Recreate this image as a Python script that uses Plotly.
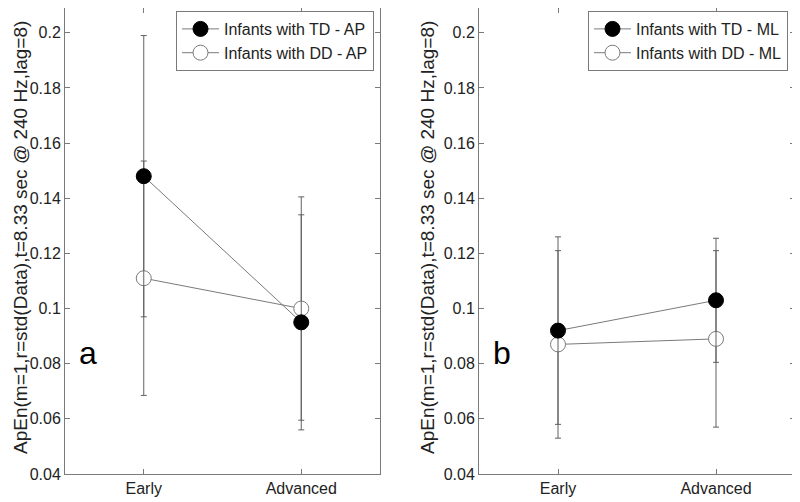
import plotly.graph_objects as go

categories = ["Early", "Advanced"]
cat_pos = [1, 2]

# Panel a (AP)
td_ap = [0.148, 0.095]
td_ap_err = [0.051, 0.039]
dd_ap = [0.111, 0.100]
dd_ap_err = [0.0425, 0.0405]

# Panel b (ML)
td_ml = [0.092, 0.103]
td_ml_err = [0.034, 0.0225]
dd_ml = [0.087, 0.089]
dd_ml_err = [0.034, 0.032]

y_ticks = [0.04, 0.06, 0.08, 0.1, 0.12, 0.14, 0.16, 0.18, 0.2]
y_ticklabels = ["0.04", "0.06", "0.08", "0.1", "0.12", "0.14", "0.16", "0.18", "0.2"]
y_title = "ApEn(m=1,r=std(Data),t=8.33 sec @ 240 Hz,lag=8)"

FONT = "Liberation Sans, Arial, Helvetica, sans-serif"
GRAY = "#7a7a7a"
ERR = "#606060"
W, H = 800, 502
OFF = 8  # page body margin offset

fig = go.Figure()

def add_panel(xa, ya, legend, td, td_err, dd, dd_err, td_name, dd_name):
    fig.add_trace(go.Scatter(
        x=cat_pos, y=dd, name=dd_name, mode="lines+markers",
        xaxis=xa, yaxis=ya, legend=legend, legendrank=2,
        line=dict(color=GRAY, width=1),
        marker=dict(symbol="circle", size=15, color="white", line=dict(color=GRAY, width=1)),
        error_y=dict(type="data", array=dd_err, visible=True, color=ERR, thickness=1, width=3),
    ))
    fig.add_trace(go.Scatter(
        x=cat_pos, y=td, name=td_name, mode="lines+markers",
        xaxis=xa, yaxis=ya, legend=legend, legendrank=1,
        line=dict(color=GRAY, width=1),
        marker=dict(symbol="circle", size=15, color="black", line=dict(color="black", width=1)),
        error_y=dict(type="data", array=td_err, visible=True, color=ERR, thickness=1, width=3),
    ))

add_panel("x", "y", "legend", td_ap, td_ap_err, dd_ap, dd_ap_err,
          "Infants with TD - AP", "Infants with DD - AP")
add_panel("x2", "y2", "legend2", td_ml, td_ml_err, dd_ml, dd_ml_err,
          "Infants with TD - ML", "Infants with DD - ML")

xd1 = [(65 - OFF) / W, (380 - OFF) / W]
xd2 = [(479 - OFF) / W, (795 - OFF) / W]
yd = [1 - (474 - OFF) / H, 1.0]
y_range = [0.04, 0.209]

axis_common = dict(
    showline=True, linecolor=GRAY, linewidth=1, mirror="ticks",
    ticks="inside", ticklen=5, tickcolor=GRAY, showgrid=False, zeroline=False,
    tickfont=dict(family=FONT, size=16, color="#222"),
)

legend_common = dict(
    xanchor="right", yanchor="top",
    bgcolor="white", bordercolor=GRAY, borderwidth=1,
    font=dict(family=FONT, size=16, color="#222"),
    tracegroupgap=0, itemwidth=37,
)

fig.update_layout(
    width=W, height=H,
    margin=dict(l=0, r=0, t=0, b=0),
    paper_bgcolor="white", plot_bgcolor="white",
    font=dict(family=FONT, size=16, color="#222"),
    xaxis=dict(domain=xd1, range=[0.5, 2.5], tickvals=cat_pos, ticktext=categories,
               automargin=False, **axis_common),
    yaxis=dict(domain=yd, range=y_range, tickvals=y_ticks, ticktext=y_ticklabels,
               automargin=False, **axis_common),
    xaxis2=dict(domain=xd2, range=[0.5, 2.5], tickvals=cat_pos, ticktext=categories,
                anchor="y2", automargin=False, **axis_common),
    yaxis2=dict(domain=yd, range=y_range, tickvals=y_ticks, ticktext=y_ticklabels,
                anchor="x2", automargin=False, **axis_common),
    legend=dict(x=(374 - OFF) / W, y=1 - (11 - OFF) / H, **legend_common),
    legend2=dict(x=(788 - OFF) / W, y=1 - (11 - OFF) / H, **legend_common),
    showlegend=True,
)

fig.add_annotation(text=y_title, textangle=-90, xref="paper", yref="paper",
                   x=(20 - OFF) / W, y=1 - (238 - OFF) / H, xanchor="center", yanchor="middle",
                   showarrow=False, borderpad=0,
                   font=dict(family=FONT, size=19, color="#222"))
fig.add_annotation(text=y_title, textangle=-90, xref="paper", yref="paper",
                   x=(427 - OFF) / W, y=1 - (238 - OFF) / H, xanchor="center", yanchor="middle",
                   showarrow=False, borderpad=0,
                   font=dict(family=FONT, size=19, color="#222"))

fig.add_annotation(text="a", xref="x", yref="y", x=0.646, y=0.084, showarrow=False,
                   font=dict(family=FONT, size=32, color="black"))
fig.add_annotation(text="b", xref="x2", yref="y2", x=0.646, y=0.084, showarrow=False,
                   font=dict(family=FONT, size=32, color="black"))

fig.write_html("out.html")
